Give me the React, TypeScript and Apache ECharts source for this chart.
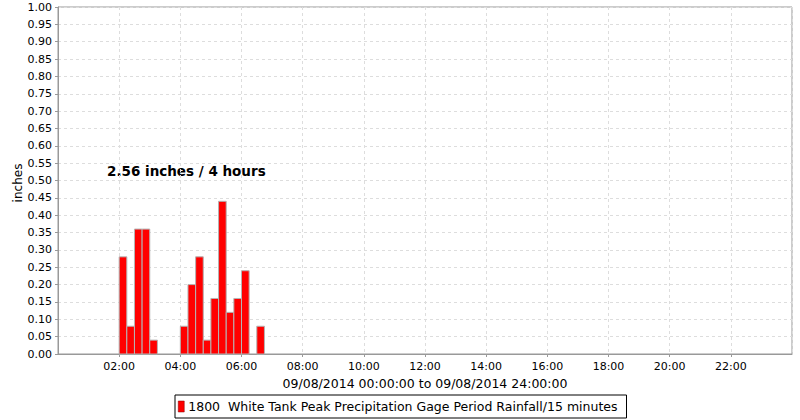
import React, { useEffect, useRef } from "react";
import * as echarts from "echarts";

// 15-minute intervals: start hour, rainfall (inches)
const intervalStarts: number[] = [2.0, 2.25, 2.5, 2.75, 3.0, 4.0, 4.25, 4.5, 4.75, 5.0, 5.25, 5.5, 5.75, 6.0, 6.5];
const rainfall: number[] = [0.28, 0.08, 0.36, 0.36, 0.04, 0.08, 0.2, 0.28, 0.04, 0.16, 0.44, 0.12, 0.16, 0.24, 0.08];
const intervalHours = 0.25;
const seriesName = "1800  White Tank Peak Precipitation Gage Period Rainfall/15 minutes";
const annotation = "2.56 inches / 4 hours";
const xAxisTitle = "09/08/2014 00:00:00 to 09/08/2014 24:00:00";
const yAxisTitle = "inches";

const FONT = "DejaVu Sans";

export default function App() {
  const ref = useRef<HTMLDivElement>(null);
  useEffect(() => {
    document.body.style.margin = "0";
    if (!ref.current) return;
    const chart = echarts.init(ref.current, null, { renderer: "svg" });
    const data = intervalStarts.map((s, i) => [s, s + intervalHours, rainfall[i]]);
    chart.setOption({
      animation: false,
      backgroundColor: "#ffffff",
      textStyle: { fontFamily: FONT },
      grid: {
        left: 58,
        right: 8,
        top: 7,
        bottom: 66,
        show: true,
        borderColor: "#999999",
        borderWidth: 1,
        backgroundColor: "#ffffff",
      },
      legend: {
        show: true,
        left: 175,
        top: 395,
        padding: [5, 9, 5, 3],
        borderColor: "#000000",
        borderWidth: 1,
        itemWidth: 6,
        itemHeight: 11,
        itemGap: 5,
        icon: "rect",
        textStyle: { fontFamily: FONT, fontSize: 12.5, color: "#000000", padding: [0, 0, 0, -1] },
        data: [{ name: seriesName, icon: "rect", itemStyle: { color: "#ff0000", borderColor: "#800000", borderWidth: 0.5 } }],
      },
      xAxis: {
        type: "value",
        min: 0,
        max: 24,
        interval: 2,
        name: xAxisTitle,
        nameLocation: "middle",
        nameGap: 22,
        nameTextStyle: { fontFamily: FONT, fontSize: 12.5, color: "#000000" },
        axisLine: { show: true, lineStyle: { color: "#999999" } },
        axisTick: { show: true, length: 3, lineStyle: { color: "#999999" } },
        axisLabel: {
          showMinLabel: false,
          showMaxLabel: false,
          fontFamily: FONT,
          fontSize: 11,
          color: "#000000",
          margin: 7,
          formatter: (v: number) => (v < 10 ? "0" + v : "" + v) + ":00",
        },
        splitLine: { show: true, lineStyle: { color: "#dddddd", type: [3, 3] } },
      },
      yAxis: {
        type: "value",
        min: 0,
        max: 1,
        interval: 0.05,
        axisLine: { show: true, lineStyle: { color: "#999999" } },
        axisTick: { show: true, length: 3, lineStyle: { color: "#999999" } },
        axisLabel: {
          fontFamily: FONT,
          fontSize: 11,
          color: "#000000",
          margin: 6,
          formatter: (v: number) => v.toFixed(2),
        },
        splitLine: { show: true, lineStyle: { color: "#dddddd", type: [3, 3] } },
      },
      series: [
        {
          name: seriesName,
          type: "custom",
          encode: { x: [0, 1], y: 2 },
          data,
          itemStyle: { color: "#ff0000" },
          renderItem: (params: any, api: any) => {
            const p0 = api.coord([api.value(0), api.value(2)]);
            const p1 = api.coord([api.value(1), 0]);
            return {
              type: "rect",
              shape: { x: p0[0], y: p0[1], width: p1[0] - p0[0], height: p1[1] - p0[1] },
              style: { fill: "#ff0000", stroke: "#b4b4b4", lineWidth: 1 },
            };
          },
        },
      ],
      graphic: [
        {
          type: "text",
          x: 18,
          y: 183,
          rotation: Math.PI / 2,
          style: {
            text: yAxisTitle,
            fontFamily: FONT,
            fontSize: 12,
            fill: "#000000",
            align: "center",
            verticalAlign: "middle",
          },
        },
        {
          type: "text",
          left: 107,
          top: 164,
          style: {
            text: annotation,
            fontFamily: FONT,
            fontSize: 13.5,
            fontWeight: "bold",
            fill: "#000000",
          },
        },
      ],
    });
    return () => chart.dispose();
  }, []);
  return <div ref={ref} style={{ width: 800, height: 420, position: "absolute", left: 0, top: 0 }} />;
}
